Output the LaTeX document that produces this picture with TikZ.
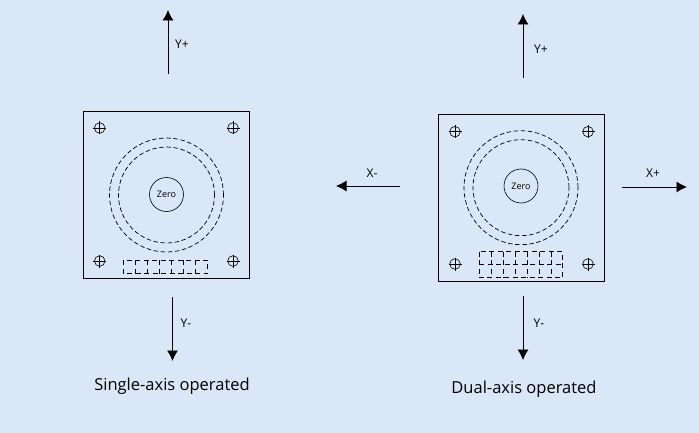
\documentclass[tikz,border=0pt]{standalone}
\usepackage{fontspec}
\setmainfont{Open Sans}
\usetikzlibrary{arrows.meta,calc}
\definecolor{panelblue}{RGB}{217,231,246}
\tikzset{
  board/.style={draw,line width=0.9pt,minimum width=166pt,minimum height=167pt,inner sep=0pt},
  zero/.style={draw,circle,line width=0.6pt,minimum size=34pt,inner sep=0pt,font=\fontsize{9}{10}\selectfont},
  ring/.style={line width=0.7pt,dash pattern=on 4.5pt off 2.6pt},
  slot/.style={line width=0.8pt,dash pattern=on 5pt off 3.5pt},
  axis/.style={line width=0.8pt,-{Latex[length=10.5pt,width=11pt]}},
  axislabel/.style={font=\fontsize{12}{14}\selectfont,inner sep=0pt},
  caption/.style={font=\fontsize{16.5}{18}\selectfont,inner sep=0pt},
}
\newcommand{\screwhole}[1]{
  \draw[line width=0.6pt] (#1) circle [radius=5.3pt];
  \draw[line width=0.6pt] ($(#1)+(-6.5,0)$) -- ($(#1)+(6.5,0)$);
  \draw[line width=0.6pt] ($(#1)+(0,-6.5)$) -- ($(#1)+(0,6.5)$);
}
\begin{document}
\begin{tikzpicture}[x=1pt,y=-1pt]
  \fill[panelblue] (0,0) rectangle (699,433);
  \useasboundingbox (0,0) rectangle (699,433);

  % single axis
  \node[board] (lboard) at (166,194.5) {};
  \node[zero] (lzero) at (166.5,194.5) {Zero};
  \draw[ring] (166.5,195) circle [radius=57pt];
  \draw[ring] (166.5,195) circle [radius=48pt];
  \foreach \x/\y [count=\i] in {99.7/128,233/128,99.7/261,233/261} {
    \coordinate (lh\i) at (\x,\y);
    \screwhole{lh\i}
  }
  \draw[slot] (123.5,260) rectangle (207.5,273.5);
  \foreach \x in {135.5,147.5,159.5,171.5,183.5,195.5}
    \draw[slot] (\x,260) -- (\x,273.5);

  \coordinate (lup1) at (168,74);
  \coordinate (lup2) at (168,10);
  \coordinate (ldown1) at (172.5,297);
  \coordinate (ldown2) at (172.5,361);
  \draw[axis] (lup1) -- (lup2);
  \draw[axis] (ldown1) -- (ldown2);
  \node[axislabel] (lyplus) at (182,44) {Y+};
  \node[axislabel] (lyminus) at (186,323) {Y-};
  \node[caption] (lcaption) at (172,386.5) {Single-axis operated};

  % dual axis
  \node[board] (rboard) at (521.8,198) {};
  \node[zero] (rzero) at (521,186) {Zero};
  \draw[ring] (521,187.7) circle [radius=57pt];
  \draw[ring] (521,187.7) circle [radius=48pt];
  \foreach \x/\y [count=\i] in {455/131.7,588/131.7,455/264,588/264} {
    \coordinate (rh\i) at (\x,\y);
    \screwhole{rh\i}
  }
  \draw[slot] (479,251.5) rectangle (562.5,277.5);
  \draw[slot] (479,264) -- (562.5,264);
  \foreach \x in {491,503,515,527,539,551}
    \draw[slot] (\x,251.5) -- (\x,277.5);

  \coordinate (rup1) at (523,78);
  \coordinate (rup2) at (523,14);
  \coordinate (rdown1) at (523,296);
  \coordinate (rdown2) at (523,360);
  \coordinate (rleft1) at (400,186);
  \coordinate (rleft2) at (336,186);
  \coordinate (rright1) at (622,187);
  \coordinate (rright2) at (687,187);
  \draw[axis] (rup1) -- (rup2);
  \draw[axis] (rdown1) -- (rdown2);
  \draw[axis] (rleft1) -- (rleft2);
  \draw[axis] (rright1) -- (rright2);
  \node[axislabel] (ryplus) at (541,49) {Y+};
  \node[axislabel] (ryminus) at (539,323) {Y-};
  \node[axislabel] (rxminus) at (372,173) {X-};
  \node[axislabel] (rxplus) at (653,173) {X+};
  \node[caption] (rcaption) at (524,389.5) {Dual-axis operated};
\end{tikzpicture}
\end{document}
